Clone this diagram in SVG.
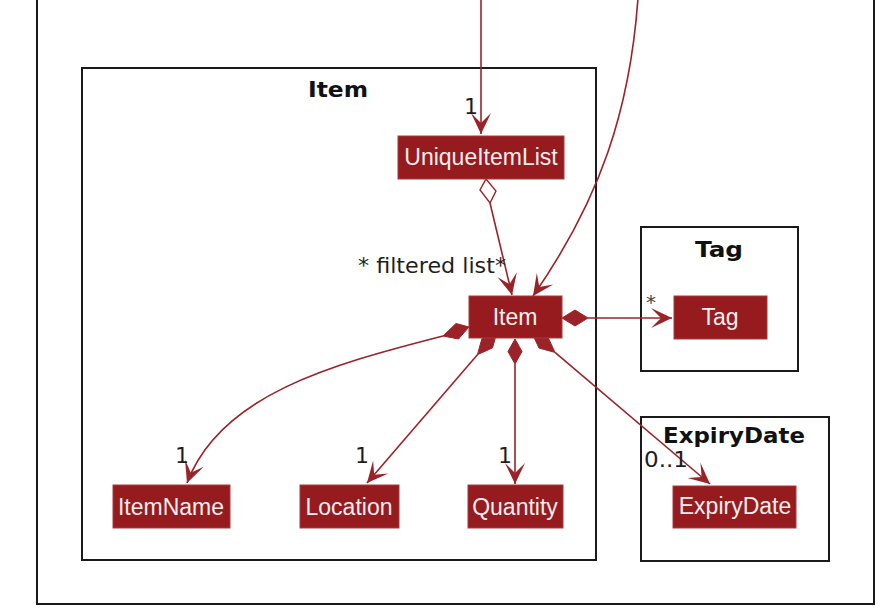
<svg xmlns="http://www.w3.org/2000/svg" width="882" height="608" viewBox="0 0 882 608">
<style>
.pkg{fill:none;stroke:#1a1a1a;stroke-width:2}
.ptitle{font-family:"DejaVu Sans",sans-serif;font-weight:bold;font-size:22px;fill:#111;text-anchor:middle}
.node{fill:#961b1f;stroke:#a83a3d;stroke-width:1}
.ntext{font-family:"Liberation Sans",Arial,sans-serif;font-size:23px;fill:#f7eeee;text-anchor:middle}
.ln{fill:none;stroke:#9b2328;stroke-width:1.6}
.dia{fill:#9b2328;stroke:#9b2328;stroke-width:1}
.hdia{fill:#ffffff;stroke:#9b2328;stroke-width:1.4}
.lbl{font-family:"DejaVu Sans",sans-serif;font-size:22px;fill:#1e1e1e}
</style>
<defs>
<marker id="arr" markerUnits="userSpaceOnUse" viewBox="-22 -11 23 22" refX="0" refY="0" markerWidth="23" markerHeight="22" orient="auto">
<path d="M0,0 L-21,-10 L-11,0 L-21,10 Z" fill="#9b2328"/>
</marker>
</defs>
<rect width="882" height="608" fill="#ffffff"/>

<g id="frame"><rect class="pkg" x="37" y="-10" width="837" height="614"/></g>

<g id="pkg-item">
<rect class="pkg" x="82" y="68" width="514" height="492"/>
<text class="ptitle" x="338" y="97" textLength="60" lengthAdjust="spacingAndGlyphs">Item</text>
</g>
<g id="pkg-tag">
<rect class="pkg" x="641" y="227" width="157" height="144"/>
<text class="ptitle" x="719" y="257" textLength="48" lengthAdjust="spacingAndGlyphs">Tag</text>
</g>
<g id="pkg-expiry">
<rect class="pkg" x="641" y="417" width="188" height="144"/>
<text class="ptitle" x="734" y="443" textLength="142" lengthAdjust="spacingAndGlyphs">ExpiryDate</text>
</g>

<g id="connectors">
<line class="ln" x1="481" y1="-2" x2="481" y2="134" marker-end="url(#arr)"/>
<path class="ln" d="M638,-2 C630,110 600,200 533,296" marker-end="url(#arr)"/>
<polygon class="hdia" points="486,179 496,191 490,203 480,190"/>
<line class="ln" x1="490" y1="203" x2="512" y2="295" marker-end="url(#arr)"/>
<polygon class="dia" points="469,327 456,323.5 443,336 458.5,339"/>
<path class="ln" d="M443,336 C330,365 220,395 187,483" marker-end="url(#arr)"/>
<polygon class="dia" points="497,332 492.5,347.9 477.4,354.7 481.9,338.7"/>
<line class="ln" x1="477.4" y1="354.7" x2="367" y2="483" marker-end="url(#arr)"/>
<polygon class="dia" points="515,339 522,351.5 515,364 508,351.5"/>
<line class="ln" x1="515" y1="364" x2="515" y2="484" marker-end="url(#arr)"/>
<polygon class="dia" points="532,333 548,337.3 555,352.4 539,348.1"/>
<line class="ln" x1="555" y1="352.4" x2="710" y2="484" marker-end="url(#arr)"/>
<polygon class="dia" points="562,318 575,310 588,318 575,326"/>
<line class="ln" x1="588" y1="318" x2="672" y2="318" marker-end="url(#arr)"/>
</g>

<g id="UniqueItemList"><rect class="node" x="398" y="136" width="166" height="43"/><text class="ntext" x="481" y="165">UniqueItemList</text></g>
<g id="Item"><rect class="node" x="469" y="296" width="93" height="42"/><text class="ntext" x="515" y="325">Item</text></g>
<g id="Tag"><rect class="node" x="674" y="296" width="93" height="43"/><text class="ntext" x="720" y="325">Tag</text></g>
<g id="ItemName"><rect class="node" x="113" y="485" width="117" height="43"/><text class="ntext" x="171" y="515">ItemName</text></g>
<g id="Location"><rect class="node" x="300" y="485" width="99" height="43"/><text class="ntext" x="349" y="515">Location</text></g>
<g id="Quantity"><rect class="node" x="468" y="485" width="95" height="43"/><text class="ntext" x="515" y="515">Quantity</text></g>
<g id="ExpiryDate"><rect class="node" x="673" y="486" width="123" height="42"/><text class="ntext" x="735" y="514">ExpiryDate</text></g>

<g id="labels">
<text class="lbl" x="471" y="114" text-anchor="middle">1</text>
<text class="lbl" x="358" y="273" textLength="148" lengthAdjust="spacingAndGlyphs">* filtered list*</text>
<text class="lbl" x="182" y="463" text-anchor="middle">1</text>
<text class="lbl" x="362" y="463" text-anchor="middle">1</text>
<text class="lbl" x="505" y="463" text-anchor="middle">1</text>
<text class="lbl" x="644" y="467" textLength="44" lengthAdjust="spacingAndGlyphs">0..1</text>
<text class="lbl" x="646" y="309" style="font-size:20px;fill:#444">*</text>
</g>
</svg>
